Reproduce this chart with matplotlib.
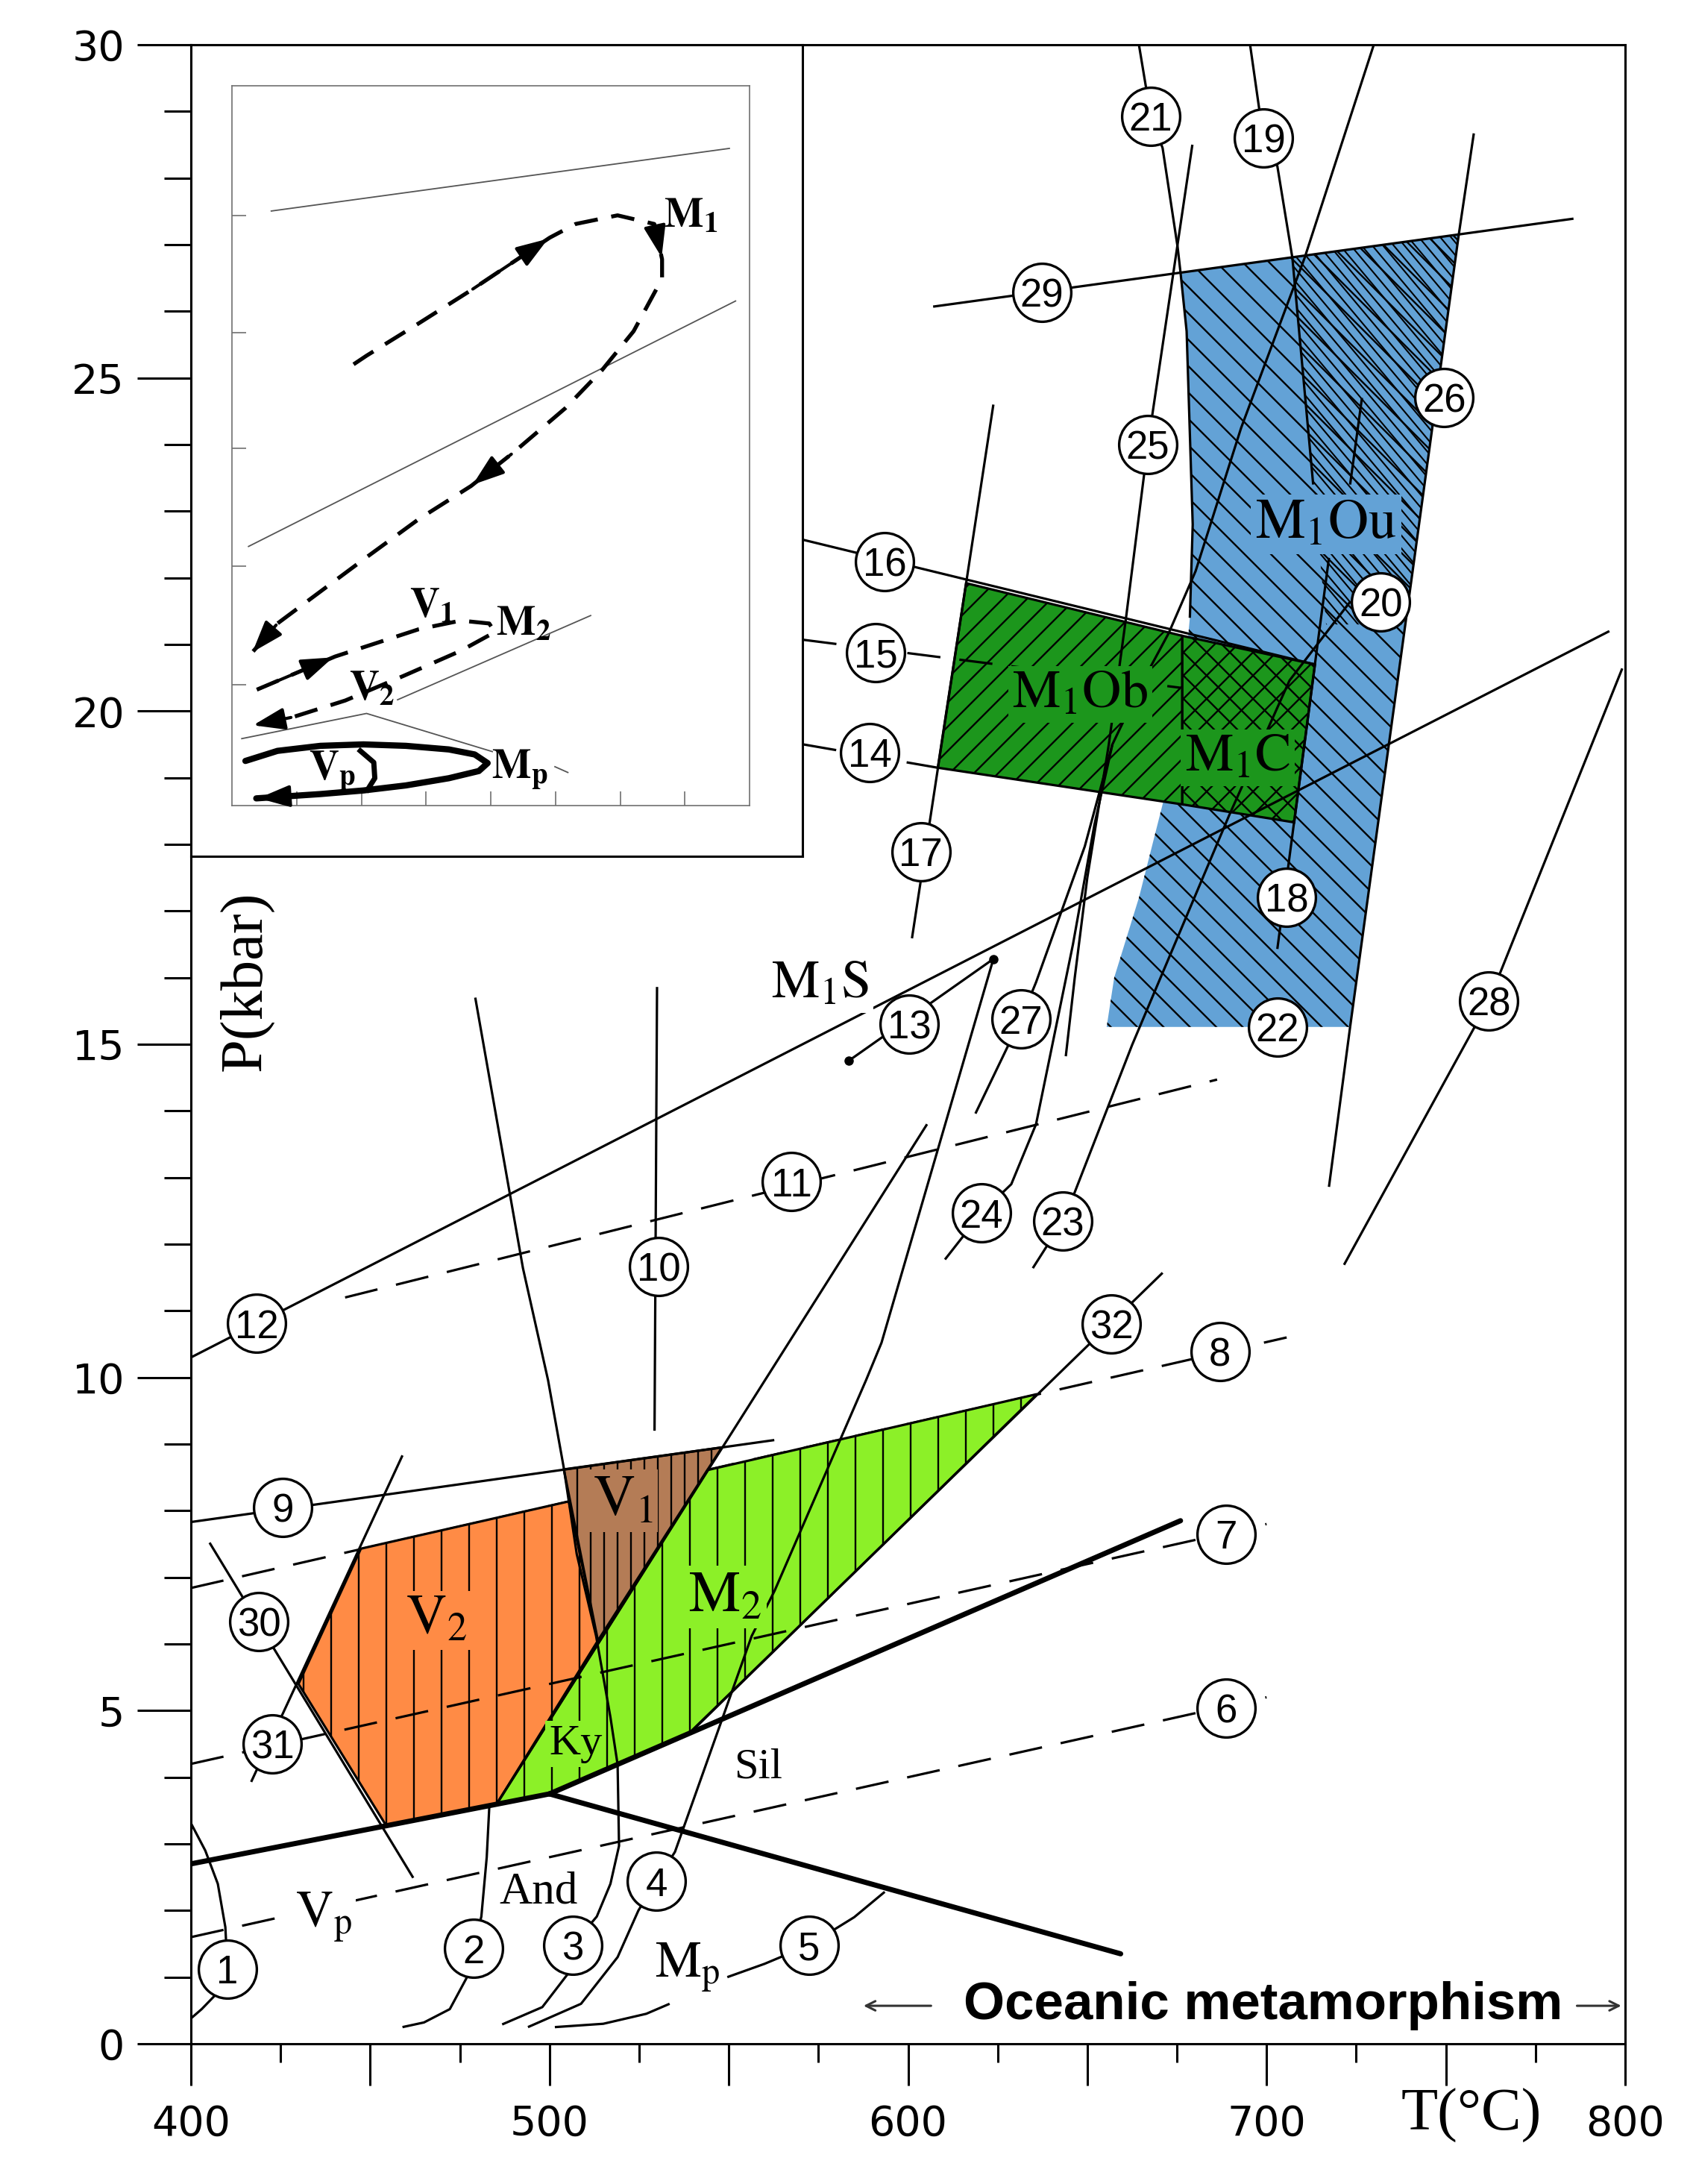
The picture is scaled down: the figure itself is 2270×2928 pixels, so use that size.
import numpy as np
import matplotlib
matplotlib.use("Agg")
import matplotlib.pyplot as plt
from matplotlib.patches import Polygon
from matplotlib.collections import LineCollection

plt.rcParams['mathtext.fontset'] = 'stix'

# ---------------- axis data ----------------
X_TICKS = [400, 450, 500, 550, 600, 650, 700, 750, 800]
X_TICK_LABELS = ['400', '', '500', '', '600', '', '700', '', '800']
X_MINOR = [425, 475, 525, 575, 625, 675, 725, 775]
Y_TICKS = [0, 5, 10, 15, 20, 25, 30]
Y_TICK_LABELS = ['0', '5', '10', '15', '20', '25', '30']
Y_MINOR = list(range(0, 31))

# ---------------- field polygons (T degC, P kbar) ----------------
V2_T = [447.4, 505.4, 513.5, 485.3, 454.5, 430.0]
V2_P = [7.43, 8.14, 6.05, 3.60, 3.27, 5.40]
V1_T = [504.0, 548.1, 513.5]
V1_P = [8.62, 8.95, 6.05]
M2_T = [485.3, 544.1, 636.0, 539.3, 500.0]
M2_P = [3.60, 8.61, 9.75, 4.67, 3.75]
BLUE_T = [676.0, 753.6, 723.3, 655.4, 657.5, 664.4, 671.0, 676.0, 678.6, 679.4, 677.7]
BLUE_P = [26.58, 27.15, 15.26, 15.26, 16.0, 17.2, 18.6, 19.85, 21.4, 22.8, 25.7]
BLUE_DENSE_T = [707.2, 753.6, 738.6, 716.6, 713.0]
BLUE_DENSE_P = [26.80, 27.15, 21.3, 21.3, 23.4]
M1OB_T = [616.2, 676.5, 676.5, 608.3]
M1OB_P = [21.92, 21.13, 18.60, 19.15]
M1C_T = [676.5, 713.5, 707.7, 676.5]
M1C_P = [21.13, 20.70, 18.33, 18.60]

# ---------------- reaction curves ----------------
L1_T = [400.0, 404.0, 407.5, 409.6, 410.2, 406.6, 403.0, 400.0]
L1_P = [3.31, 2.90, 2.40, 1.75, 1.12, 0.72, 0.52, 0.38]
L2_T = [483.2, 482.5, 481.0, 478.8, 477.4, 472.2, 465.0, 459.0]
L2_P = [3.54, 2.80, 1.91, 1.43, 1.04, 0.52, 0.32, 0.25]
L3_T = [479.3, 492.6, 499.6, 504.0, 507.6, 513.0, 517.0, 519.0, 519.4, 517.0, 513.2, 506.5, 505.0, 498.0, 486.8]
L3_P = [15.70, 11.64, 9.96, 8.64, 7.35, 6.12, 4.90, 4.19, 2.97, 2.40, 1.91, 1.48, 1.04, 0.55, 0.29]
L4_T = [623.8, 592.6, 588.3, 562.8, 556.4, 535.0, 529.8, 524.8, 519.0, 508.8, 494.0]
L4_P = [16.28, 10.52, 9.96, 6.80, 6.12, 2.88, 2.44, 2.00, 1.30, 0.60, 0.25]
L5A_T = [501.5, 515.0, 527.0, 533.5]
L5A_P = [0.25, 0.30, 0.45, 0.60]
L5B_T = [549.6, 560.0, 572.4, 585.0, 593.5]
L5B_P = [1.00, 1.20, 1.48, 1.90, 2.28]
L6_T = [400.0, 700.0]
L6_P = [1.60, 5.20]
L7_T = [400.0, 700.0]
L7_P = [4.20, 7.80]
L8_T = [400.0, 705.6]
L8_P = [6.84, 10.60]
L9_T = [400.0, 562.7]
L9_P = [7.83, 9.06]
L10_T = [530.0, 529.3]
L10_P = [15.86, 9.20]
L11_T = [443.0, 686.2]
L11_P = [11.20, 14.47]
L12_T = [400.0, 795.6]
L12_P = [10.30, 21.20]
L13_T = [583.4, 623.8]
L13_P = [14.75, 16.28]
L14_T = [570.8, 608.3]
L14_P = [19.50, 19.15]
L15_T = [570.8, 676.0]
L15_P = [21.07, 20.35]
L16_T = [570.8, 713.5]
L16_P = [22.57, 20.70]
L17_T = [623.8, 601.1]
L17_P = [24.60, 16.59]
L18_T = [717.4, 703.0]
L18_P = [22.30, 16.43]
L19_T = [695.4, 699.1, 703.0, 707.2, 713.0]
L19_P = [30.0, 28.6, 28.18, 26.8, 23.4]
L20_T = [723.3, 726.6]
L20_P = [23.4, 24.7]
L21_T = [664.4, 667.7, 671.0, 675.2, 676.0, 677.7, 679.4, 678.6]
L21_P = [30.0, 28.93, 28.45, 26.96, 26.58, 25.7, 22.8, 21.4]
L22_T = [723.3, 717.4]
L22_P = [15.26, 12.86]
L23_T = [634.8, 643.2, 646.5, 662.5, 689.6, 706.4, 723.3]
L23_P = [11.64, 12.35, 12.78, 14.99, 18.44, 20.46, 21.64]
L24_T = [610.3, 620.5, 628.8, 635.7, 646.0, 652.0, 657.0]
L24_P = [11.77, 12.47, 12.90, 13.80, 16.50, 18.30, 19.50]
L25_T = [679.3, 666.9, 660.8, 656.0, 650.0, 646.5, 644.0]
L25_P = [28.5, 24.0, 21.4, 19.5, 17.5, 16.0, 14.82]
L26_T = [757.8, 753.6, 723.3]
L26_P = [28.67, 27.15, 15.26]
L27_T = [618.8, 631.5, 635.7, 649.3, 657.0, 665.0, 672.7, 680.2, 692.9, 710.6, 729.9]
L27_P = [13.96, 15.38, 15.93, 17.97, 19.5, 20.4, 21.17, 22.1, 24.25, 26.8, 30.0]
L28_T = [799.2, 762.0, 721.6]
L28_P = [20.64, 15.65, 11.69]
L29_T = [607.0, 785.6]
L29_P = [26.07, 27.39]
L30_T = [405.2, 462.0]
L30_P = [7.52, 2.49]
L31_T = [416.8, 459.0]
L31_P = [3.93, 8.83]
L32_T = [539.3, 671.0]
L32_P = [4.68, 11.57]
LM2_T = [485.3, 605.3]
LM2_P = [3.60, 13.80]
AND_KY_T = [400.0, 500.0]
AND_KY_P = [2.70, 3.75]
KY_SIL_T = [500.0, 676.0]
KY_SIL_P = [3.75, 7.85]
AND_SIL_T = [500.0, 659.3]
AND_SIL_P = [3.75, 1.35]

# ---------------- numbered labels ----------------
CIRC_ID = list(range(1, 33))
CIRC_T = [410.2, 478.8, 506.5, 529.8, 572.4, 688.7, 688.7, 687.0, 425.6, 530.4,
          567.5, 418.3, 600.3, 589.3, 591.0, 593.5, 603.6, 705.6, 699.1, 731.8,
          667.7, 703.0, 643.2, 620.5, 666.9, 749.5, 631.5, 762.0, 637.3, 419.0,
          422.7, 656.7]
CIRC_P = [1.12, 1.43, 1.48, 2.44, 1.48, 5.04, 7.65, 10.39, 8.05, 11.66,
          12.94, 10.81, 15.30, 19.38, 20.88, 22.24, 17.89, 17.20, 28.60, 21.64,
          28.93, 15.26, 12.35, 12.47, 24.00, 24.70, 15.38, 15.65, 26.28, 6.34,
          4.50, 10.80]

# ---------------- inset (schematic P-T paths, % of inner frame) ----------------
IN_A_U = [7.6, 96.1]
IN_A_V = [82.6, 91.3]
IN_B_U = [3.2, 97.3]
IN_B_V = [36.0, 70.1]
IN_C_U = [32.0, 69.3]
IN_C_V = [14.7, 26.4]
IN_D_U = [1.9, 26.0, 50.3]
IN_D_V = [9.3, 12.8, 7.5]
IN_E_U = [62.4, 64.9]
IN_E_V = [5.4, 4.6]
IN_M1_U = [23.5, 26.0, 36.1, 46.2, 61.4, 66.4, 74.5, 81.6, 83.1, 83.1, 77.6, 71.5, 64.4, 54.3, 46.2, 36.1, 26.0, 15.9, 8.8, 3.7]
IN_M1_V = [61.3, 62.5, 67.0, 71.6, 78.9, 80.8, 82.0, 80.8, 75.9, 73.2, 65.9, 60.5, 55.2, 49.0, 44.4, 39.8, 34.5, 29.1, 25.3, 21.1]
IN_V_U = [4.8, 19.9, 36.1, 44.2, 49.7, 50.8, 44.2, 33.1, 21.9, 11.8, 3.7]
IN_V_V = [16.1, 20.7, 24.5, 25.7, 25.3, 24.1, 21.5, 18.0, 14.6, 12.3, 11.1]
IN_VP_U = [2.6, 8.8, 17.1, 25.4, 33.6, 41.9, 46.9, 49.4, 47.7, 41.9, 33.6, 25.4, 17.1, 8.8, 4.7]
IN_VP_V = [6.2, 7.6, 8.3, 8.5, 8.3, 7.8, 7.1, 5.9, 4.8, 3.8, 2.8, 2.1, 1.6, 1.2, 1.0]
IN_VPARC_U = [24.8, 27.4, 27.6, 26.2]
IN_VPARC_V = [7.6, 6.0, 3.8, 2.2]

BLUE = '#63a2d6'
DKGREEN = '#1c961c'
LTGREEN = '#8cf028'
ORANGE = '#ff8b45'
BROWN = '#b47c56'

W, H, DPI = 2270, 2928, 100
fig = plt.figure(figsize=(W / DPI, H / DPI), dpi=DPI)
ax = fig.add_axes([256 / W, 1 - 2740 / H, 1923 / W, 2680 / H])
ax.set_xlim(400, 800)
ax.set_ylim(0, 30)

LW = 2.3
SERIF = 'Liberation Serif'


def hatch(T, P, angle, spacing, lw=1.7, zorder=2.5):
    pts_d = np.column_stack([T, P])
    poly = Polygon(pts_d, closed=True, facecolor='none', edgecolor='none', transform=ax.transData)
    ax.add_patch(poly)
    pts = ax.transData.transform(pts_d)
    th = np.deg2rad(angle)
    d = np.array([np.cos(th), np.sin(th)])
    n = np.array([-np.sin(th), np.cos(th)])
    proj = pts @ n
    L = np.ptp(pts, axis=0).max() * 2 + 50
    c = pts.mean(axis=0)
    cs = c @ n
    inv = ax.transData.inverted()
    segs = []
    for s in np.arange(np.floor(proj.min() / spacing) * spacing, proj.max() + spacing, spacing):
        base = c + (s - cs) * n
        segs.append(inv.transform(np.array([base - L * d, base + L * d])))
    lc = LineCollection(segs, colors='black', linewidths=lw, zorder=zorder)
    ax.add_collection(lc)
    lc.set_clip_path(poly)


# line 8 below fills
ax.plot(L8_T, L8_P, color='k', lw=LW, ls=(0, (14, 8)), zorder=1)

# fills
ax.fill(BLUE_T, BLUE_P, color=BLUE, lw=0, zorder=2)
hatch(BLUE_T, BLUE_P, -45, 25)
hatch(BLUE_DENSE_T, BLUE_DENSE_P, -50, 11, lw=1.5)
ax.fill(M1OB_T, M1OB_P, facecolor=DKGREEN, edgecolor='k', lw=LW, zorder=2.6)
ax.fill(M1C_T, M1C_P, facecolor=DKGREEN, edgecolor='k', lw=LW, zorder=2.6)
hatch(M1OB_T, M1OB_P, 45, 23, zorder=2.7)
hatch(M1C_T, M1C_P, 45, 22, zorder=2.7)
hatch(M1C_T, M1C_P, -45, 22, zorder=2.7)

ax.fill(V2_T, V2_P, facecolor=ORANGE, edgecolor='k', lw=LW, zorder=2)
ax.fill(V1_T, V1_P, facecolor=BROWN, edgecolor='k', lw=LW, zorder=2)
ax.fill(M2_T, M2_P, facecolor=LTGREEN, edgecolor='k', lw=LW, zorder=2)
hatch(V2_T, V2_P, 90, 37)
hatch(V1_T, V1_P, 90, 18)
hatch(M2_T, M2_P, 90, 37)

solid = [(L1_T, L1_P), (L2_T, L2_P), (L3_T, L3_P), (L4_T, L4_P), (L5A_T, L5A_P),
         (L5B_T, L5B_P), (L9_T, L9_P), (L10_T, L10_P), (L12_T, L12_P), (L13_T, L13_P),
         (L16_T, L16_P), (L17_T, L17_P), (L18_T, L18_P), (L19_T, L19_P), (L20_T, L20_P),
         (L21_T, L21_P), (L22_T, L22_P), (L23_T, L23_P), (L24_T, L24_P), (L25_T, L25_P),
         (L26_T, L26_P), (L27_T, L27_P), (L28_T, L28_P), (L29_T, L29_P), (L30_T, L30_P),
         (L31_T, L31_P), (L32_T, L32_P), (LM2_T, LM2_P)]
for t, p in solid:
    ax.plot(t, p, color='k', lw=LW, zorder=4, solid_capstyle='butt')
for t, p in [(L6_T, L6_P), (L7_T, L7_P), (L11_T, L11_P), (L14_T, L14_P), (L15_T, L15_P)]:
    ax.plot(t, p, color='k', lw=LW, ls=(0, (14, 8)), zorder=4)
for t, p in [(AND_KY_T, AND_KY_P), (KY_SIL_T, KY_SIL_P), (AND_SIL_T, AND_SIL_P)]:
    ax.plot(t, p, color='k', lw=5, zorder=4.5, solid_capstyle='round')
ax.plot([L13_T[0], L13_T[-1]], [L13_P[0], L13_P[-1]], 'o', color='k', ms=8, zorder=4.6)


# field labels
def lab(x, y, s, size, bg=None, ha='center'):
    kw = dict(ha=ha, va='center', fontsize=size, family=SERIF, zorder=5)
    if bg is not None:
        kw['bbox'] = dict(boxstyle='square,pad=0.08', facecolor=bg, edgecolor='none')
    ax.text(x, y, s, **kw)


lab(716.6, 22.8, r'$\mathrm{M}_{\mathrm{1}}\mathrm{Ou}$', 54, BLUE)
lab(648.0, 20.25, r'$\mathrm{M}_{\mathrm{1}}\mathrm{Ob}$', 52, DKGREEN)
lab(692.0, 19.3, r'$\mathrm{M}_{\mathrm{1}}\mathrm{C}$', 52, DKGREEN)
lab(575.5, 15.9, r'$\mathrm{M}_{\mathrm{1}}\mathrm{S}$', 52, 'white')
lab(520.5, 8.15, r'$\mathrm{V}_{\mathrm{1}}$', 56, BROWN)
lab(468.5, 6.35, r'$\mathrm{V}_{\mathrm{2}}$', 54, ORANGE)
lab(549.0, 6.7, r'$\mathrm{M}_{\mathrm{2}}$', 56, LTGREEN)
lab(507.3, 4.5, 'Ky', 42, LTGREEN)
lab(558.3, 4.15, 'Sil', 42)
lab(497.0, 2.28, 'And', 44)
lab(437.0, 1.9, r'$\mathrm{V}_{\mathrm{p}}$', 50, 'white')
lab(538.5, 1.15, r'$\mathrm{M}_{\mathrm{p}}$', 50, 'white')

# numbered circles
ax.scatter(CIRC_T, CIRC_P, s=56 ** 2, facecolor='white', edgecolor='black', linewidths=2.4, zorder=6)
for n, t, p in zip(CIRC_ID, CIRC_T, CIRC_P):
    ax.text(t, p, str(n), ha='center', va='center_baseline', fontsize=38,
            family=['Liberation Sans Narrow', 'Liberation Sans'], zorder=7)

# oceanic metamorphism annotation
OCEAN_T = 699.0
OCEAN_P = 0.57
ax.text(OCEAN_T, OCEAN_P, 'Oceanic metamorphism', ha='center', va='center', fontsize=51,
        family='Liberation Sans', fontweight='bold', zorder=5)
ax.annotate('', xy=(587.0, OCEAN_P), xytext=(607.0, OCEAN_P),
            arrowprops=dict(arrowstyle='->,head_length=0.9,head_width=0.45', color='#333333', lw=2.2))
ax.annotate('', xy=(799.5, OCEAN_P), xytext=(786.0, OCEAN_P),
            arrowprops=dict(arrowstyle='->,head_length=0.9,head_width=0.45', color='#333333', lw=2.2))

# axis labels
ax.text(415.3, 15.95, 'P(kbar)', rotation=90, ha='center', va='center', fontsize=58, family=SERIF)
ax.text(757.0, -0.036, 'T(°C)', transform=ax.get_xaxis_transform(), ha='center', va='center',
        fontsize=58, family=SERIF, clip_on=False)

# ticks
ax.set_xticks(X_TICKS)
ax.set_xticklabels(X_TICK_LABELS)
ax.set_xticks(X_MINOR, minor=True)
ax.set_yticks(Y_TICKS)
ax.set_yticklabels(Y_TICK_LABELS)
ax.set_yticks(Y_MINOR, minor=True)
for lbl in ax.get_xticklabels() + ax.get_yticklabels():
    lbl.set_family('DejaVu Sans')
ax.tick_params(axis='x', which='major', length=40, width=2.2, pad=18, labelsize=40)
ax.tick_params(axis='x', which='minor', length=18, width=2.2)
ax.tick_params(axis='y', which='major', length=52, width=2.2, pad=12, labelsize=40)
ax.tick_params(axis='y', which='minor', length=26, width=2.2)
for s in ax.spines.values():
    s.set_linewidth(2.2)

# ---------------- inset ----------------
axo = fig.add_axes([256 / W, 1 - 1148 / H, 820 / W, 1088 / H])
axo.set_zorder(10)
axo.set_xticks([])
axo.set_yticks([])
axo.set_facecolor('white')
for s in axo.spines.values():
    s.set_linewidth(2.2)

axi = fig.add_axes([311 / W, 1 - 1080 / H, 694 / W, 965 / H])
axi.set_zorder(11)
axi.set_facecolor('white')
axi.set_xlim(0, 100)
axi.set_ylim(0, 100)
for s in axi.spines.values():
    s.set_linewidth(1.2)
    s.set_color('#707070')
axi.set_xticks([12.5 * k for k in range(1, 8)])
axi.set_yticks([16.8, 33.3, 49.6, 65.7, 82.0])
axi.tick_params(direction='in', length=14, width=1.2, color='#707070', labelbottom=False, labelleft=False)

for u, v in [(IN_A_U, IN_A_V), (IN_B_U, IN_B_V), (IN_C_U, IN_C_V), (IN_D_U, IN_D_V), (IN_E_U, IN_E_V)]:
    axi.plot(u, v, color='#555555', lw=1.3)
axi.plot(IN_M1_U, IN_M1_V, color='k', lw=3.8, ls=(0, (6, 3.5)), zorder=3)
axi.plot(IN_V_U, IN_V_V, color='k', lw=3.8, ls=(0, (6, 3.5)), zorder=3)
axi.plot(IN_VP_U, IN_VP_V, color='k', lw=6, zorder=3, solid_capstyle='round', solid_joinstyle='round')
axi.plot(IN_VPARC_U, IN_VPARC_V, color='k', lw=5, zorder=3, solid_joinstyle='round')

ARROW = dict(arrowstyle='-|>,head_length=1.3,head_width=0.45', color='k', lw=3, mutation_scale=20)
for (u0, v0, u1, v1) in [(IN_M1_U[3], IN_M1_V[3], IN_M1_U[4], IN_M1_V[4]),
                         (IN_M1_U[7], IN_M1_V[7], IN_M1_U[8], IN_M1_V[8]),
                         (IN_M1_U[13], IN_M1_V[13], IN_M1_U[14], IN_M1_V[14]),
                         (IN_M1_U[18], IN_M1_V[18], IN_M1_U[19], IN_M1_V[19]),
                         (IN_V_U[0], IN_V_V[0], IN_V_U[1], IN_V_V[1]),
                         (IN_V_U[9], IN_V_V[9], IN_V_U[10], IN_V_V[10]),
                         (IN_VP_U[12], IN_VP_V[12], IN_VP_U[14], IN_VP_V[14])]:
    axi.annotate('', xy=(u1, v1), xytext=(u0, v0), arrowprops=ARROW, zorder=4)


def ilab(x, y, s, ha='center'):
    axi.text(x, y, s, ha=ha, va='center', fontsize=40, zorder=5)


ilab(83.5, 82.0, r'$\mathbf{M_{1}}$', ha='left')
ilab(38.6, 27.8, r'$\mathbf{V_{1}}$')
ilab(51.0, 25.3, r'$\mathbf{M_{2}}$', ha='left')
ilab(27.0, 16.3, r'$\mathbf{V_{2}}$')
ilab(19.4, 4.8, r'$\mathbf{V_{p}}$')
ilab(50.2, 5.0, r'$\mathbf{M_{p}}$', ha='left')

fig.savefig('out.png', dpi=DPI, facecolor='white')
